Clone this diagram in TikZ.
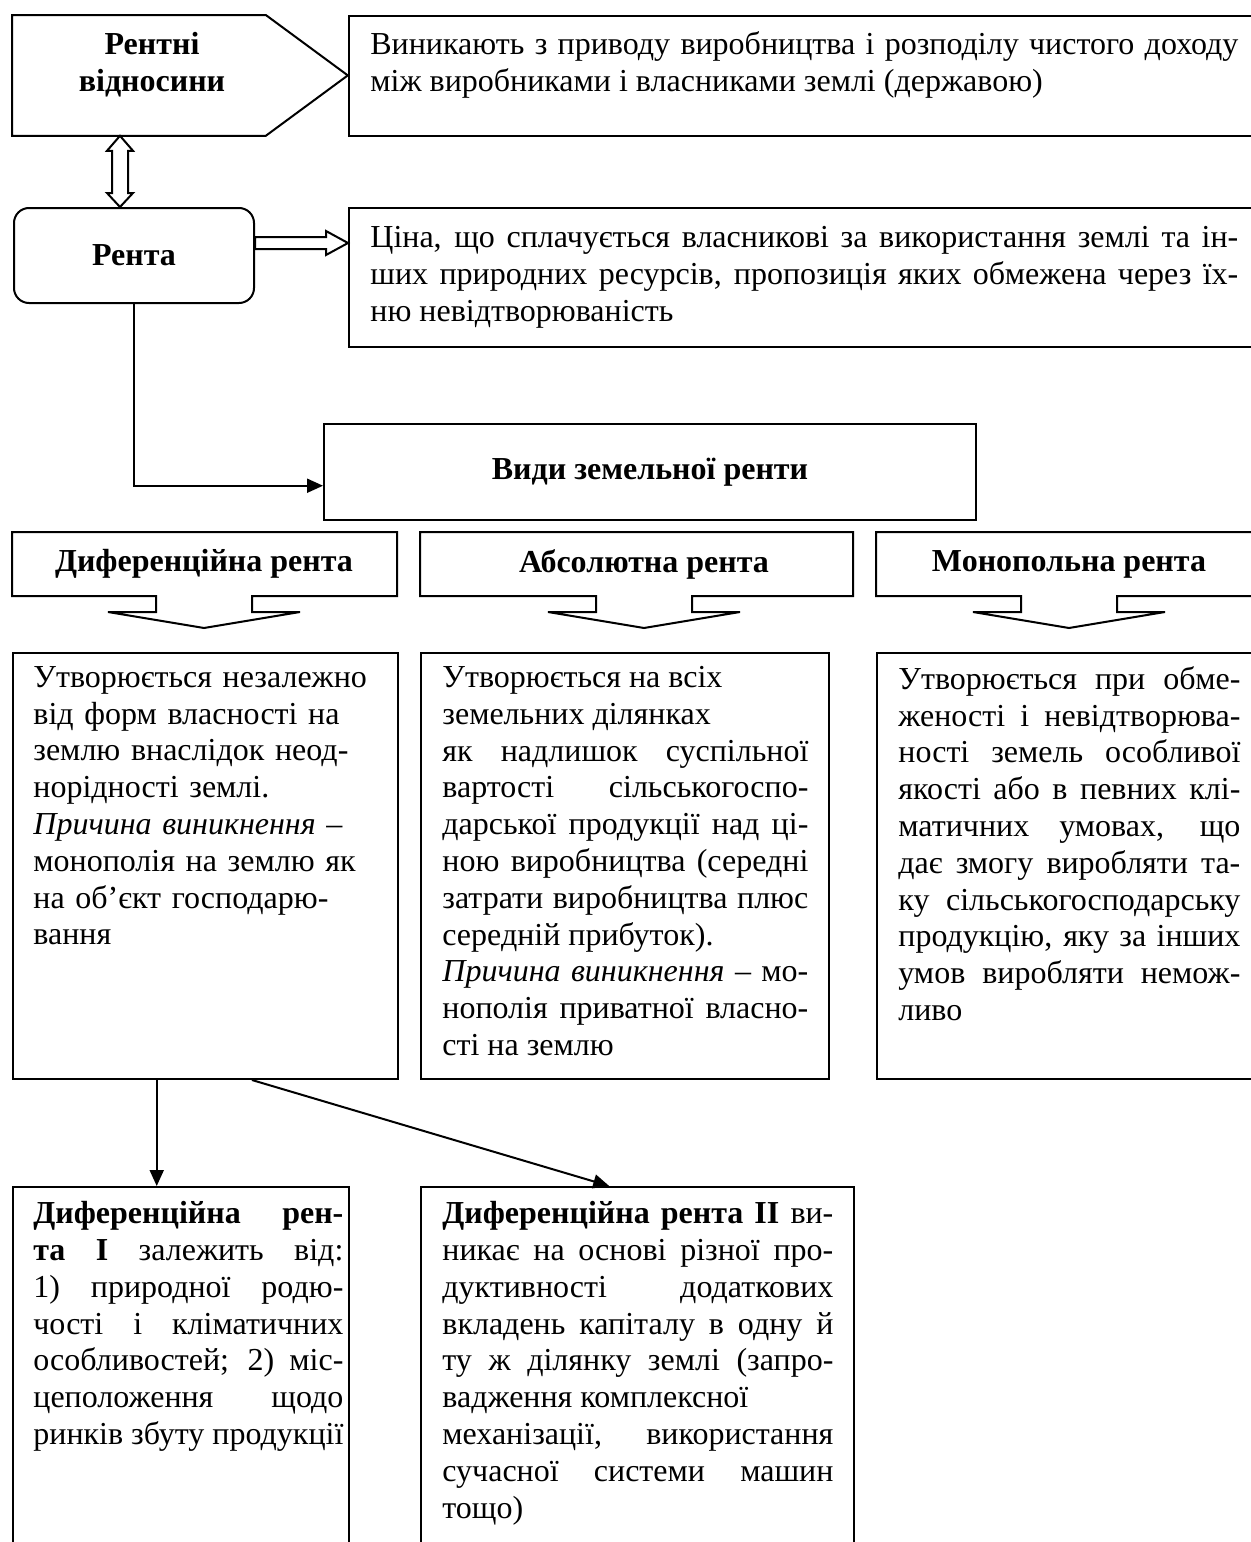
\documentclass[tikz,border=0pt]{standalone}
\usepackage{fontspec}
\setmainfont{Liberation Serif}
\usetikzlibrary{calc,arrows.meta}

\tikzset{
  frame/.style={draw, line width=1pt},
  box/.style={anchor=north west, inner sep=0pt},
  body/.style={anchor=north west, inner sep=0pt, align=justify},
  hd/.style={font=\bfseries, inner sep=0pt, align=center},
  tip/.style={line width=1pt, -{Triangle[length=8pt,width=7pt]}},
}

\begin{document}
\fontsize{16}{18.4}\selectfont
\hyphenpenalty=10000
\begin{tikzpicture}[x=0.5pt, y=-0.5pt]
    \useasboundingbox (0,0) rectangle (1251,1542);
    \clip (0,0) rectangle (1251,1542);

    % top row
    \node[box, minimum width=126.5pt, minimum height=60pt] (rel) at (12,15) {};
    \draw[frame] (rel.north west) -- (rel.north east) -- ($(rel.east)+(82,0)$)
        -- (rel.south east) -- (rel.south west) -- cycle;
    \node[hd] (reltxt) at (152,65) {Рентні\\відносини};

    \node[box, frame, minimum width=460pt, minimum height=60pt] (r1) at (348,15) {};
    \node[body, text width=434pt] (r1txt) at (370,31)
        {Виникають з приводу виробництва і розподілу чистого доходу\linebreak
         між виробниками і власниками землі (державою)\\};

    \node[box, frame, rounded corners=7.5pt, minimum width=120pt, minimum height=47.5pt] (renta) at (13,207) {};
    \node[hd] (rentatxt) at (renta.center) {Рента};

    \node[box, frame, minimum width=460pt, minimum height=69.5pt] (r2) at (348,207) {};
    \node[body, text width=434pt] (r2txt) at (370,226)
        {Ціна, що сплачується власникові за використання землі та ін-\linebreak
         ших природних ресурсів, пропозиція яких обмежена через їх-\linebreak
         ню невідтворюваність\\};

    % hollow arrows
    \coordinate (dax) at (120,0);
    \coordinate (T) at (rel.south -| dax);
    \coordinate (B) at (renta.north -| dax);
    \draw[frame, fill=white] (T) -- ++(13,15) -- ++(-5,0) -- ($(B)+(8,-14)$) -- ++(5,0) -- (B)
        -- ++(-13,-14) -- ++(5,0) -- ($(T)+(-8,15)$) -- ++(-5,0) -- cycle;

    \coordinate (hax) at (0,243);
    \coordinate (S) at (renta.east |- hax);
    \coordinate (E) at (r2.west |- hax);
    \draw[frame, fill=white] ($(S)+(0,-6)$) -- ($(E)+(-22,-6)$) -- ($(E)+(-22,-12)$) -- (E)
        -- ($(E)+(-22,12)$) -- ($(E)+(-22,6)$) -- ($(S)+(0,6)$) -- cycle;

    % kinds of rent
    \node[box, frame, minimum width=326pt, minimum height=48pt] (vid) at (323,423) {};
    \node[hd] (vidtxt) at (vid.center) {Види земельної ренти};
    \draw[tip] (renta.south) |- ($(vid.south west)!0.36!(vid.north west)$);

    % headers with down arrows
    \foreach \l/\r/\c in {12/397/204, 420/853/644, 876/1262/1069} {
        \draw[frame] (\l,532) -- (\r,532) -- (\r,596) -- (\c+48,596) -- (\c+48,612) -- (\c+96,612)
            -- (\c,628) -- (\c-96,612) -- (\c-48,612) -- (\c-48,596) -- (\l,596) -- cycle;
    }
    \node[hd] (h1) at (204,564) {Диференційна рента};
    \node[hd] (h2) at (644,564) {Абсолютна рента};
    \node[hd] (h3) at (1069,564) {Монопольна рента};

    % descriptions
    \node[box, frame, minimum width=192.5pt, minimum height=213pt] (t1) at (12,652) {};
    \node[body, align=left, text width=180pt] (t1txt) at (33,666)
        {Утворюється незалежно\\ від форм власності на\\ землю внаслідок неод-\\
         норідності землі.\\ \textit{Причина виникнення} –\\ монополія на землю як\\
         на об’єкт господарю-\\ вання};

    \node[box, frame, minimum width=204pt, minimum height=213pt] (t2) at (420,652) {};
    \node[body, text width=183pt] (t2txt) at (442,666)
        {Утворюється на всіх\\ земельних ділянках\\ як надлишок суспільної\linebreak
         вартості сільськогоспо-\linebreak дарської продукції над ці-\linebreak
         ною виробництва (середні\linebreak затрати виробництва плюс\linebreak
         середній прибуток).\\ \textit{Причина виникнення} – мо-\linebreak
         нополія приватної власно-\linebreak сті на землю\\};

    \node[box, frame, minimum width=195pt, minimum height=213pt] (t3) at (876,652) {};
    \node[body, text width=171pt] (t3txt) at (898,666)
        {Утворюється при обме-\linebreak женості і невідтворюва-\linebreak
         ності земель особливої\linebreak якості або в певних клі-\linebreak
         матичних умовах, що\linebreak дає змогу виробляти та-\linebreak
         ку сільськогосподарську\linebreak продукцію, яку за інших\linebreak
         умов виробляти немож-\linebreak ливо\\};

    % differential rent I and II
    \node[box, frame, minimum width=168pt, minimum height=200pt] (b1) at (12,1186) {};
    \node[body, text width=155pt] (b1txt) at (33,1201)
        {\parfillskip=0pt \textbf{Диференційна рен-}\linebreak \textbf{та I} залежить від:\linebreak
         1) природної родю-\linebreak чості і кліматичних\linebreak
         особливостей; 2) міс-\linebreak цеположення щодо\linebreak
         ринків збуту продукції};

    \node[box, frame, minimum width=216.5pt, minimum height=200pt] (b2) at (420,1186) {};
    \node[body, text width=195.5pt] (b2txt) at (442,1201)
        {\textbf{Диференційна рента II} ви-\linebreak никає на основі різної про-\linebreak
         дуктивності додаткових\linebreak вкладень капіталу в одну й\linebreak
         ту ж ділянку землі (запро-\linebreak вадження комплексної\\
         механізації, використання\linebreak сучасної системи машин\linebreak тощо)\\};

    \coordinate (p1) at ($(t1.south west)!0.374!(t1.south east)$);
    \coordinate (p2) at ($(t1.south west)!0.62!(t1.south east)$);
    \coordinate (q2) at ($(b2.north west)!0.435!(b2.north east)$);
    \draw[tip] (p1) -- (p1 |- b1.north);
    \draw[tip] (p2) -- (q2);
\end{tikzpicture}
\end{document}
